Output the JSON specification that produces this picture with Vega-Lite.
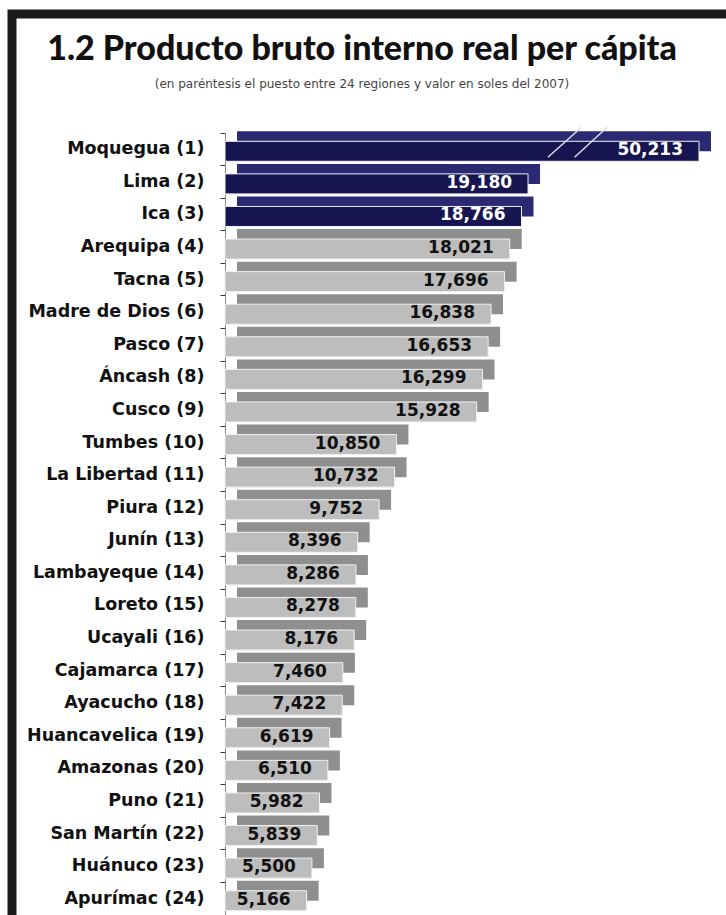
{
  "$schema": "https://vega.github.io/schema/vega-lite/v6.json",
  "autosize": "none",
  "width": 734,
  "height": 921,
  "padding": {"left": 12, "top": 14, "right": -20, "bottom": -20},
  "background": "white",
  "config": {
    "view": {"stroke": "#1a1a1a", "strokeWidth": 9},
    "axis": {"grid": false}
  },
  "title": {
    "text": "1.2 Producto bruto interno real per cápita",
    "subtitle": "(en paréntesis el puesto entre 24 regiones y valor en soles del 2007)",
    "anchor": "middle",
    "frame": "group",
    "dx": -17,
    "offset": -76,
    "font": "Lato",
    "fontSize": 34,
    "fontWeight": 900,
    "color": "#111111",
    "subtitleFont": "DejaVu Sans",
    "subtitleFontSize": 12,
    "subtitleColor": "#444444",
    "subtitlePadding": 12
  },
  "data": {
    "values": [
      {"region": "Moquegua (1)", "rank": 1, "value": 50213},
      {"region": "Lima (2)", "rank": 2, "value": 19180},
      {"region": "Ica (3)", "rank": 3, "value": 18766},
      {"region": "Arequipa (4)", "rank": 4, "value": 18021},
      {"region": "Tacna (5)", "rank": 5, "value": 17696},
      {"region": "Madre de Dios (6)", "rank": 6, "value": 16838},
      {"region": "Pasco (7)", "rank": 7, "value": 16653},
      {"region": "Áncash (8)", "rank": 8, "value": 16299},
      {"region": "Cusco (9)", "rank": 9, "value": 15928},
      {"region": "Tumbes (10)", "rank": 10, "value": 10850},
      {"region": "La Libertad (11)", "rank": 11, "value": 10732},
      {"region": "Piura (12)", "rank": 12, "value": 9752},
      {"region": "Junín (13)", "rank": 13, "value": 8396},
      {"region": "Lambayeque (14)", "rank": 14, "value": 8286},
      {"region": "Loreto (15)", "rank": 15, "value": 8278},
      {"region": "Ucayali (16)", "rank": 16, "value": 8176},
      {"region": "Cajamarca (17)", "rank": 17, "value": 7460},
      {"region": "Ayacucho (18)", "rank": 18, "value": 7422},
      {"region": "Huancavelica (19)", "rank": 19, "value": 6619},
      {"region": "Amazonas (20)", "rank": 20, "value": 6510},
      {"region": "Puno (21)", "rank": 21, "value": 5982},
      {"region": "San Martín (22)", "rank": 22, "value": 5839},
      {"region": "Huánuco (23)", "rank": 23, "value": 5500},
      {"region": "Apurímac (24)", "rank": 24, "value": 5166}
    ]
  },
  "encoding": {
    "y": {
      "field": "region",
      "type": "nominal",
      "sort": null,
      "scale": {"range": [119, 901], "paddingInner": 0, "paddingOuter": 0},
      "axis": {
        "title": null,
        "offset": -213,
        "bandPosition": 0,
        "domainColor": "#8a8a8a",
        "domainWidth": 1,
        "tickColor": "#333333",
        "tickSize": 5,
        "labelPadding": 16,
        "labelFont": "DejaVu Sans",
        "labelFontWeight": "bold",
        "labelFontSize": 17.5,
        "labelColor": "#111111"
      }
    }
  },
  "layer": [
    {
      "mark": {"type": "bar", "height": 20, "yOffset": -8, "xOffset": 12},
      "encoding": {
        "x": {
          "field": "value",
          "type": "quantitative",
          "scale": {"domain": [0, 29625], "range": [213, 687], "clamp": true, "zero": true},
          "axis": null
        },
        "color": {
          "condition": {"test": "datum.rank <= 3", "value": "#2a2972"},
          "value": "#8f8f8f"
        }
      }
    },
    {
      "mark": {"type": "bar", "height": 20, "yOffset": 2, "stroke": "#f0f0f0", "strokeWidth": 1},
      "encoding": {
        "x": {"field": "value", "type": "quantitative"},
        "color": {
          "condition": {"test": "datum.rank <= 3", "value": "#161552"},
          "value": "#bdbdbd"
        }
      }
    },
    {
      "transform": [{"filter": "datum.rank == 1"}],
      "mark": {"type": "rule", "color": "#dddddd", "strokeWidth": 1.5, "yOffset": 8, "y2Offset": -22},
      "encoding": {
        "x": {"datum": 20437},
        "x2": {"datum": 22562},
        "y2": {"field": "region"}
      }
    },
    {
      "transform": [{"filter": "datum.rank == 1"}],
      "mark": {"type": "rule", "color": "#dddddd", "strokeWidth": 1.5, "yOffset": 8, "y2Offset": -22},
      "encoding": {
        "x": {"datum": 22125},
        "x2": {"datum": 24187},
        "y2": {"field": "region"}
      }
    },
    {
      "mark": {"type": "text", "align": "right", "baseline": "middle", "dx": -16, "yOffset": 1, "font": "DejaVu Sans", "fontWeight": "bold", "fontSize": 17},
      "encoding": {
        "x": {"field": "value", "type": "quantitative"},
        "text": {"field": "value", "type": "quantitative", "format": ",.0f"},
        "color": {
          "condition": {"test": "datum.rank <= 3", "value": "#ffffff"},
          "value": "#111111"
        }
      }
    }
  ]
}
